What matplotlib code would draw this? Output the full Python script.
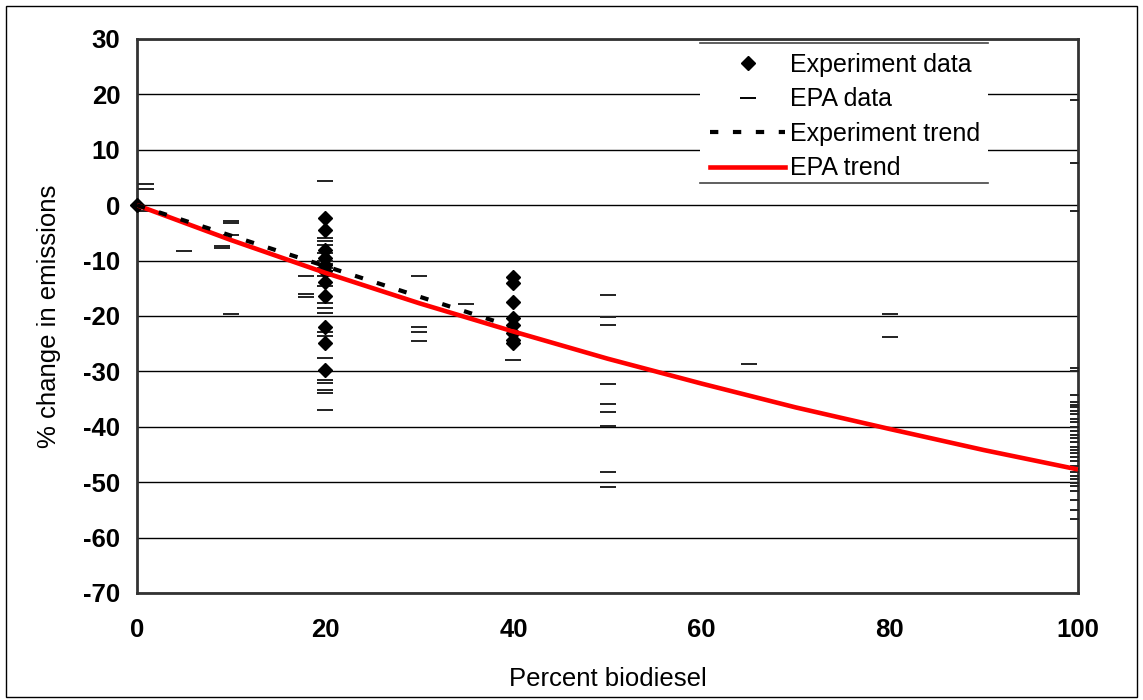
import matplotlib
matplotlib.use("Agg")
import matplotlib.pyplot as plt
from matplotlib.patches import Rectangle
from matplotlib.lines import Line2D

plt.rcParams['font.family'] = ['Liberation Sans', 'DejaVu Sans']
plt.rcParams['axes.unicode_minus'] = False

# Experiment data (percent biodiesel, % change)
exp_x = [0] + [20]*11 + [40]*8
exp_y = [0,
         -2.3, -4.4, -8.0, -9.5, -10.8, -11.8, -13.8, -16.4, -22.0, -24.9, -29.7,
         -12.9, -14.1, -17.4, -20.4, -21.6, -23.1, -24.3, -24.9]

# EPA data
epa_x = ([1, 1, 1, 5, 9, 9, 10, 10, 10, 10, 18, 18, 18]
         + [20]*22
         + [30, 30, 30, 30, 35, 40]
         + [50]*9
         + [65, 80, 80]
         + [100]*34)
epa_y = ([3.9, 3.0, -1.0, -8.3, -7.3, -7.8, -2.9, -3.3, -5.4, -19.6, -12.8, -16.0, -16.6]
         + [4.3, -5.9, -6.5, -7.1, -8.6, -10.1, -10.7, -11.3, -11.9, -12.8, -14.6,
            -17.6, -18.5, -19.5, -22.8, -23.7, -27.6, -31.5, -32.1, -33.3, -33.9, -37.0]
         + [-12.7, -22.0, -22.8, -24.6, -17.8, -28.0]
         + [-16.2, -20.1, -21.7, -32.2, -35.8, -37.4, -39.9, -48.2, -50.9]
         + [-28.7, -19.7, -23.8]
         + [19.0, 7.6, -1.0, -29.4, -29.9, -34.3, -35.5, -36.0, -36.5, -37.1, -37.7,
            -38.6, -39.2, -40.0, -40.8, -41.4, -42.0, -42.7, -43.6, -44.2, -44.8, -45.4,
            -46.1, -47.0, -47.6, -48.2, -48.9, -49.5, -50.1, -50.7, -51.6, -53.2, -55.0, -56.6])

# Experiment trend
exp_trend_x = [0, 20, 40]
exp_trend_y = [0, -11.0, -22.0]

# EPA trend
epa_trend_x = [0, 10, 20, 30, 40, 50, 60, 70, 80, 90, 100]
epa_trend_y = [0, -6.3, -12.2, -17.7, -22.8, -27.7, -32.2, -36.5, -40.4, -44.2, -47.7]

x_ticks = [0, 20, 40, 60, 80, 100]
y_ticks = [30, 20, 10, 0, -10, -20, -30, -40, -50, -60, -70]

W, H = 1143, 700
fig = plt.figure(figsize=(W/100, H/100), dpi=100)
L, R, T, B = 137, 1078, 39, 593
ax = fig.add_axes([L/W, (H-B)/H, (R-L)/W, (B-T)/H])

ax.set_xlim(0, 100)
ax.set_ylim(-70, 30)
ax.set_yticks(y_ticks)
ax.set_xticks(x_ticks)
ax.yaxis.grid(True, color='black', linewidth=1.0)
ax.set_axisbelow(True)
ax.tick_params(length=0, labelsize=18.5)
ax.tick_params(axis='y', pad=12)
ax.tick_params(axis='x', pad=18)
for lab in ax.get_xticklabels() + ax.get_yticklabels():
    lab.set_fontweight('bold')
for s in ax.spines.values():
    s.set_color('#333333')
    s.set_linewidth(2)

ax.plot(epa_x, epa_y, linestyle='none', marker='_', markersize=11,
        markeredgewidth=1.4, color='#222222', zorder=3)
ax.plot(exp_x, exp_y, linestyle='none', marker='D', markersize=7.5,
        color='black', zorder=4, clip_on=False)
ax.plot(epa_trend_x, epa_trend_y, color='#ff0000', linewidth=3.3, zorder=5,
        solid_capstyle='butt')
ax.plot(exp_trend_x, exp_trend_y, color='black', linewidth=3,
        dashes=(2, 3.5), zorder=6)

ax.set_ylabel('% change in emissions', fontsize=18.5, labelpad=16)
ax.set_xlabel('Percent biodiesel', fontsize=18.5, labelpad=18)

# Legend with white background and top/bottom rules
lx0 = (700-L)/(R-L); lx1 = (988-L)/(R-L)
ly1 = (B-43)/(B-T); ly0 = (B-183)/(B-T)
ax.add_patch(Rectangle((lx0, ly0), lx1-lx0, ly1-ly0, transform=ax.transAxes,
                       facecolor='white', edgecolor='none', zorder=7))
for yy in (ly0, ly1):
    ax.add_line(Line2D([lx0, lx1], [yy, yy], transform=ax.transAxes,
                       color='#444444', linewidth=1.2, zorder=8, clip_on=False))
handles = [
    Line2D([], [], linestyle='none', marker='D', markersize=7.5, color='black'),
    Line2D([], [], linestyle='none', marker='_', markersize=11,
           markeredgewidth=1.4, color='black'),
    Line2D([], [], color='black', linewidth=3, dashes=(2, 3.5)),
    Line2D([], [], color='#ff0000', linewidth=3.3),
]
labels = ['Experiment data', 'EPA data', 'Experiment trend', 'EPA trend']
leg = ax.legend(handles, labels, loc='upper left', bbox_to_anchor=(lx0, ly1),
                frameon=False, fontsize=18, borderaxespad=0, borderpad=0.4,
                handlelength=3.0, handletextpad=0.2, labelspacing=0.42)
leg.set_zorder(9)

# Outer figure border
fig.add_artist(Rectangle((6/W, 3/H), (1137-6)/W, (697-6)/H, transform=fig.transFigure,
                         fill=False, edgecolor='black', linewidth=1))

fig.savefig('out.png', dpi=100)
